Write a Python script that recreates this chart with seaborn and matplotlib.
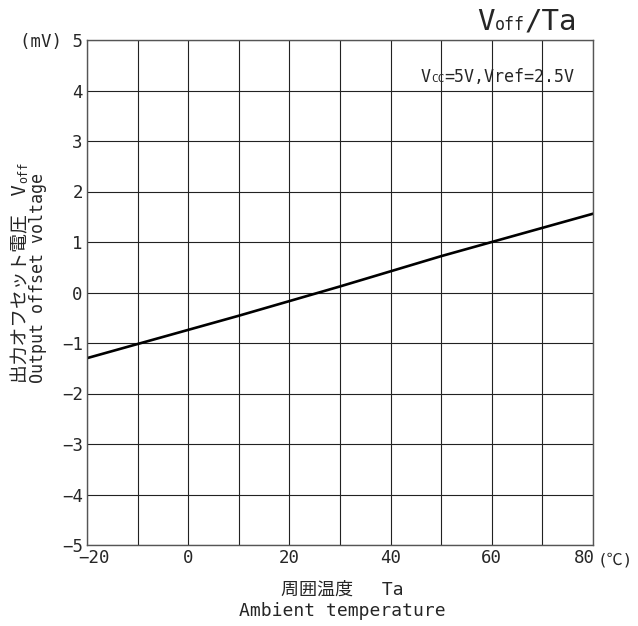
import pandas as pd
import matplotlib
matplotlib.use("Agg")
import matplotlib.pyplot as plt
import matplotlib.transforms as mtransforms
import seaborn as sns

# Valores
temperatura = [-20, -10, 0, 10, 20, 30, 40, 50, 60, 70, 80]
offset_mv = [-1.30, -1.02, -0.74, -0.46, -0.17, 0.12, 0.42, 0.72, 1.00, 1.28, 1.56]
xticks = [-20, 0, 20, 40, 60, 80]
yticks = [-5, -4, -3, -2, -1, 0, 1, 2, 3, 4, 5]

sns.set_style("white")
FONTE = ['DejaVu Sans Mono', 'Noto Sans CJK JP', 'DejaVu Sans']
plt.rcParams['font.family'] = FONTE

df = pd.DataFrame({'Ta': temperatura, 'Voff': offset_mv})

W, H = 638, 626
fig = plt.figure(figsize=(W / 100, H / 100), dpi=100)
ax = fig.add_axes([87 / W, 1 - 545 / H, (593 - 87) / W, (545 - 40) / H])

sns.lineplot(data=df, x='Ta', y='Voff', color='black', linewidth=1.9, ax=ax)

ax.set_xlim(-20, 80)
ax.set_ylim(-5, 5)
ax.set_xticks(range(-20, 81, 10))
ax.set_xticklabels([str(t).replace('-', '\u2212') if t in xticks else '' for t in range(-20, 81, 10)], fontsize=12.5)
ax.set_yticks(yticks)
ylabels = [str(v).replace('-', '\u2212') for v in yticks]
ylabels[-1] = '(mV) 5'
ax.set_yticklabels(ylabels, fontsize=12.5)
ax.tick_params(axis='y', length=0, pad=3)
ax.tick_params(axis='x', length=0, pad=3)
ax.grid(True, color='#222222', linewidth=0.8)
for s in ax.spines.values():
    s.set_color('#555555')
    s.set_linewidth(1.0)
ax.set_xlabel('')
ax.set_ylabel('')

# deslocar rótulos extremos como no original
lbls = ax.get_xticklabels()
lbls[0].set_transform(lbls[0].get_transform() + mtransforms.ScaledTranslation(5 / 72, 0, fig.dpi_scale_trans))
lbls[-1].set_transform(lbls[-1].get_transform() + mtransforms.ScaledTranslation(-6 / 72, 0, fig.dpi_scale_trans))

renderer = fig.canvas.get_renderer()


def pecas(x_px, y_px, partes):
    # escreve pedaços de texto seguidos na mesma linha de base
    x = x_px
    for txt, tam in partes:
        t = fig.text(x / W, 1 - y_px / H, txt, ha='left', va='baseline', fontsize=tam)
        bb = t.get_window_extent(renderer)
        x += bb.width


pecas(421, 82, [('V', 12), ('CC', 8), ('=5V,Vref=2.5V', 12)])
pecas(477, 30, [('V', 21), ('off', 12), ('/Ta', 21)])

fig.text(598 / W, 1 - 560 / H, '(℃)', ha='left', va='center', fontsize=11.5)
fig.text(342 / W, 1 - 590 / H, '周囲温度　 Ta', ha='center', va='center', fontsize=13)
fig.text(342 / W, 1 - 611 / H, 'Ambient temperature', ha='center', va='center', fontsize=13)

# rótulo do eixo y (duas linhas)
t1 = fig.text(21 / W, 1 - 383 / H, '出力オフセット電圧　V', rotation=90, ha='center', va='bottom', fontsize=13.5)
bb = t1.get_window_extent(renderer)
fig.text(24 / W, (bb.y1 + 1) / H, 'off', rotation=90, ha='center', va='bottom', fontsize=8.5)
fig.text(38 / W, 1 - 383 / H, 'Output offset voltage', rotation=90, ha='center', va='bottom', fontsize=12)

# título principal (cortado no topo, como no original)
fig.text(8 / W, 1 + 2 / H, '■', ha='left', va='baseline', fontsize=20, color='#7f86d0')
fig.text(38 / W, 1 + 2 / H, '出力オフセット電圧/周囲温度特性', ha='left', va='baseline', fontsize=20, color='black')

fig.savefig('out.png', dpi=100)
plt.close()
